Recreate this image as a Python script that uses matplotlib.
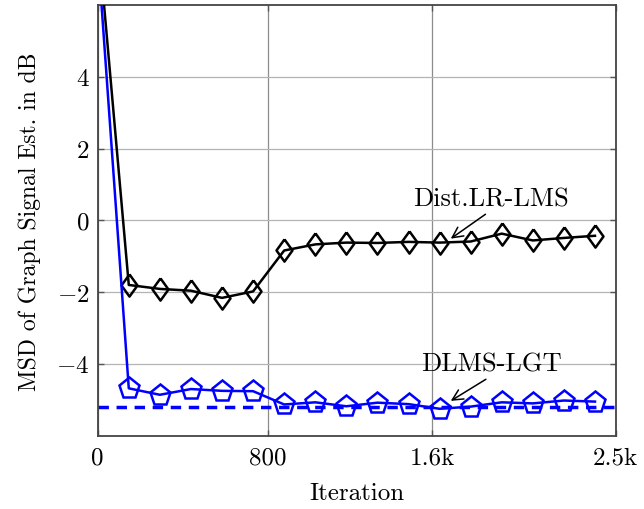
import matplotlib
matplotlib.use("Agg")
import matplotlib.pyplot as plt

plt.rcParams['font.family'] = 'serif'
plt.rcParams['font.serif'] = ['cmr10']
plt.rcParams['mathtext.fontset'] = 'cm'
plt.rcParams['axes.formatter.use_mathtext'] = True

# Data
iterations = [0, 150, 300, 450, 600, 750, 900, 1050, 1200, 1350, 1500,
              1650, 1800, 1950, 2100, 2250, 2400]
msd_lr_lms = [8.0, -1.80, -1.91, -1.96, -2.16, -1.98, -0.84, -0.67, -0.62,
              -0.63, -0.60, -0.62, -0.59, -0.37, -0.56, -0.49, -0.43]
msd_dlms_lgt = [7.5, -4.68, -4.86, -4.70, -4.75, -4.76, -5.13, -5.07, -5.18,
                -5.08, -5.12, -5.25, -5.19, -5.07, -5.10, -5.02, -5.05]
msd_floor = -5.2

xtick_pos = [0, 820, 1615, 2500]
xtick_labels = ['0', '800', '1.6k', '2.5k']

fig = plt.figure(figsize=(6.44, 5.10), dpi=100)
ax = fig.add_axes([97.7 / 644, 1 - 436.7 / 510, 518 / 644, 430.7 / 510])

diamond = [(0, 1), (0.72, 0), (0, -1), (-0.72, 0), (0, 1)]

ax.axhline(msd_floor, color='blue', lw=2.5, ls=(0, (3, 2.2)), zorder=2)
ax.plot(iterations, msd_lr_lms, color='black', lw=1.8, marker=diamond,
        markersize=16, markerfacecolor='none', markeredgewidth=1.8,
        markevery=list(range(1, len(iterations))), zorder=3)
ax.plot(iterations, msd_dlms_lgt, color='blue', lw=1.8, marker='p',
        markersize=15.5, markerfacecolor='none', markeredgewidth=1.8,
        markevery=list(range(1, len(iterations))), zorder=3)

ax.annotate('Dist.LR-LMS', xy=(1704, -0.51), xytext=(1896, 0.6),
            fontsize=19, ha='center', va='center',
            arrowprops=dict(arrowstyle='->', color='black', lw=1.1,
                            relpos=(0.5, 0), shrinkA=1, shrinkB=0))
ax.annotate('DLMS-LGT', xy=(1704, -5.03), xytext=(1901, -4.0),
            fontsize=19, ha='center', va='center',
            arrowprops=dict(arrowstyle='->', color='black', lw=1.1,
                            relpos=(0.5, 0), shrinkA=1, shrinkB=0))

ax.set_xlim(0, 2500)
ax.set_ylim(-6, 6)
ax.set_xticks(xtick_pos)
ax.set_xticklabels(xtick_labels)
ax.set_yticks([-4, -2, 0, 2, 4])
ax.tick_params(direction='in', length=4, width=1, color='#555555',
               labelsize=18, top=True, right=True)
ax.tick_params(axis='x', pad=8)
ax.tick_params(axis='y', pad=6)
ax.xaxis.grid(True, color='#8c8c8c', lw=0.9)
ax.yaxis.grid(True, color='#b4b4b4', lw=0.9)
ax.set_axisbelow(True)
for s in ax.spines.values():
    s.set_color('#444444')
    s.set_linewidth(1.3)

ax.set_xlabel('Iteration', fontsize=18, labelpad=9)
ax.set_ylabel('MSD of Graph Signal Est. in dB', fontsize=17, labelpad=11)

fig.savefig('out.png', dpi=100)
